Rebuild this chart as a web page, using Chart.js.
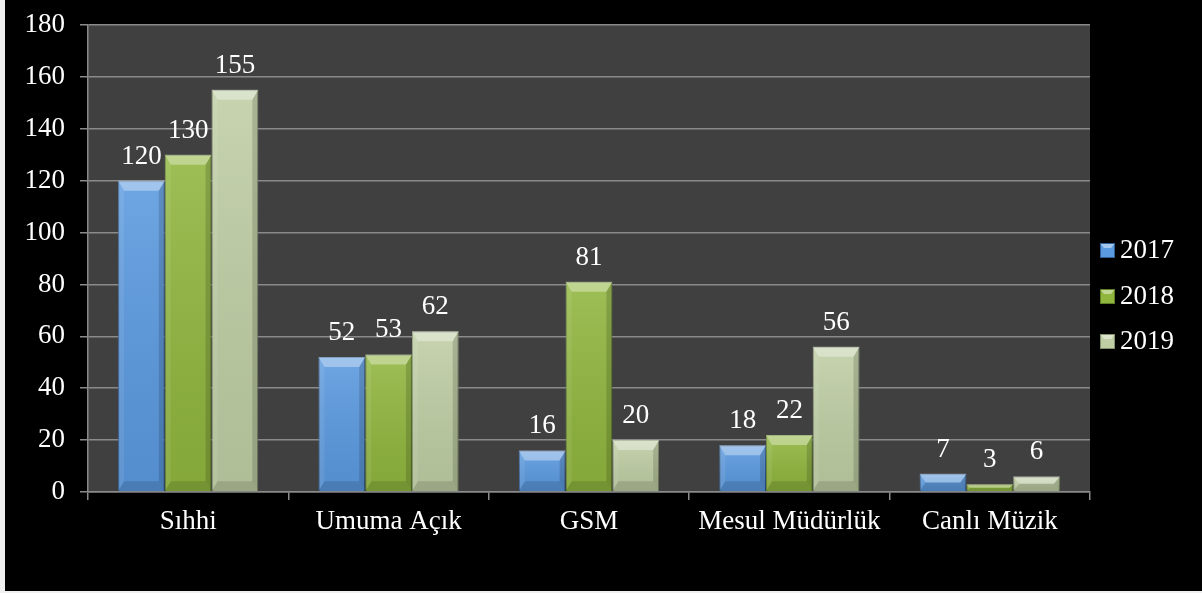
<!DOCTYPE html>
<html>
<head>
<meta charset="utf-8">
<script src="https://cdn.jsdelivr.net/npm/chart.js@4/dist/chart.umd.min.js"></script>
<style>
  html, body { margin: 0; padding: 0; background: #f0f0f0; }
  #wrap { position: absolute; left: 5px; top: 0; width: 1197px; height: 591px; background: #000; }
  canvas { display: block; }
</style>
</head>
<body>
<div id="wrap"><canvas id="chart" width="1197" height="591"></canvas></div>
<script>
// data
const categories = ['Sıhhi', 'Umuma Açık', 'GSM', 'Mesul Müdürlük', 'Canlı Müzik'];
const seriesNames = ['2017', '2018', '2019'];
const values2017 = [120, 52, 16, 18, 7];
const values2018 = [130, 53, 81, 22, 3];
const values2019 = [155, 62, 20, 56, 6];
const yMin = 0, yMax = 180, yStep = 20;

const fontFam = '"Liberation Serif", "Times New Roman", serif';
const fills = ['#5b9ae0', '#90b63e', '#bfcea4'];
const edges = ['#2f5e97', '#5f7e26', '#82916b'];

// plot background
const plotBg = {
  id: 'plotBg',
  beforeDraw(chart) {
    const a = chart.chartArea, c = chart.ctx;
    c.save();
    c.fillStyle = '#404040';
    c.fillRect(a.left, a.top, a.right - a.left, a.bottom - a.top);
    c.restore();
  }
};

function poly(c, pts, style) {
  c.beginPath();
  c.moveTo(pts[0][0], pts[0][1]);
  for (let k = 1; k < pts.length; k++) c.lineTo(pts[k][0], pts[k][1]);
  c.closePath();
  c.fillStyle = style;
  c.fill();
}

// bevel shading over bars
const bevel = {
  id: 'bevel',
  afterDatasetsDraw(chart) {
    const c = chart.ctx;
    c.save();
    chart.data.datasets.forEach((ds, i) => {
      chart.getDatasetMeta(i).data.forEach(el => {
        const l = el.x - el.width / 2, r = el.x + el.width / 2;
        const t = el.y, btm = el.base;
        const h = btm - t;
        if (h <= 0) return;
        const g = c.createLinearGradient(0, t, 0, btm);
        g.addColorStop(0, 'rgba(255,255,255,0.12)');
        g.addColorStop(1, 'rgba(0,0,0,0.08)');
        c.fillStyle = g;
        c.fillRect(l, t, r - l, h);
        const b = Math.min(10, h / 2), s = Math.min(6, h / 2);
        poly(c, [[l, t], [r, t], [r - s, t + b], [l + s, t + b]], 'rgba(255,255,255,0.35)');
        poly(c, [[l, t], [l + s, t + b], [l + s, btm - b], [l, btm]], 'rgba(255,255,255,0.08)');
        poly(c, [[r, t], [r - s, t + b], [r - s, btm - b], [r, btm]], 'rgba(0,0,0,0.15)');
        poly(c, [[l, btm], [r, btm], [r - s, btm - b], [l + s, btm - b]], 'rgba(0,0,0,0.12)');
      });
    });
    c.restore();
  }
};

// value labels above bars
const valueLabels = {
  id: 'valueLabels',
  afterDatasetsDraw(chart) {
    const c = chart.ctx;
    c.save();
    c.fillStyle = '#fff';
    c.font = '27px ' + fontFam;
    c.textAlign = 'center';
    c.textBaseline = 'alphabetic';
    chart.data.datasets.forEach((ds, i) => {
      chart.getDatasetMeta(i).data.forEach((el, j) => {
        c.fillText(ds.data[j], el.x, el.y - 17);
      });
    });
    c.restore();
  }
};

// legend on the right
const sideLegend = {
  id: 'sideLegend',
  afterDraw(chart) {
    const c = chart.ctx;
    const rows = [250, 296, 341];
    c.save();
    c.font = '27px ' + fontFam;
    c.textBaseline = 'middle';
    chart.data.datasets.forEach((ds, i) => {
      const y = rows[i];
      c.fillStyle = ds.backgroundColor;
      c.fillRect(1095, y - 7, 15, 15);
      poly(c, [[1095, y - 7], [1110, y - 7], [1106, y - 2], [1099, y - 2]], 'rgba(255,255,255,0.45)');
      c.strokeStyle = ds.borderColor;
      c.lineWidth = 1;
      c.strokeRect(1095.5, y - 6.5, 14, 14);
      c.fillStyle = '#fff';
      c.fillText(ds.label, 1115, y + 1);
    });
    c.restore();
  }
};

const config = {
  type: 'bar',
  data: {
    labels: categories,
    datasets: [
      { label: seriesNames[0], data: values2017, backgroundColor: fills[0], borderColor: edges[0] },
      { label: seriesNames[1], data: values2018, backgroundColor: fills[1], borderColor: edges[1] },
      { label: seriesNames[2], data: values2019, backgroundColor: fills[2], borderColor: edges[2] }
    ]
  },
  options: {
    responsive: false,
    animation: false,
    datasets: {
      bar: { categoryPercentage: 0.7, barPercentage: 1.0, borderWidth: 1 }
    },
    layout: { padding: { top: 25, right: 112, left: 0, bottom: 0 } },
    plugins: {
      legend: { display: false },
      tooltip: { enabled: false }
    },
    scales: {
      x: {
        grid: { display: true, drawOnChartArea: false, color: '#8a8a8a', tickLength: 8, lineWidth: 1.5 },
        border: { color: '#8a8a8a', width: 1.5 },
        ticks: { color: '#fff', font: { family: fontFam, size: 27 }, padding: 6, maxRotation: 0 },
        afterFit(s) { s.height = 99; }
      },
      y: {
        min: yMin,
        max: yMax,
        ticks: { stepSize: yStep, color: '#fff', font: { family: fontFam, size: 27 }, padding: 15 },
        grid: { color: '#8a8a8a', lineWidth: 1.5, tickLength: 8 },
        border: { color: '#8a8a8a', width: 1.5 },
        afterFit(s) { s.width = 83; s.paddingTop = 0; s.paddingBottom = 0; }
      }
    }
  },
  plugins: [plotBg, bevel, valueLabels, sideLegend]
};

const myChart = new Chart(document.getElementById('chart'), config);
</script>
</body>
</html>
